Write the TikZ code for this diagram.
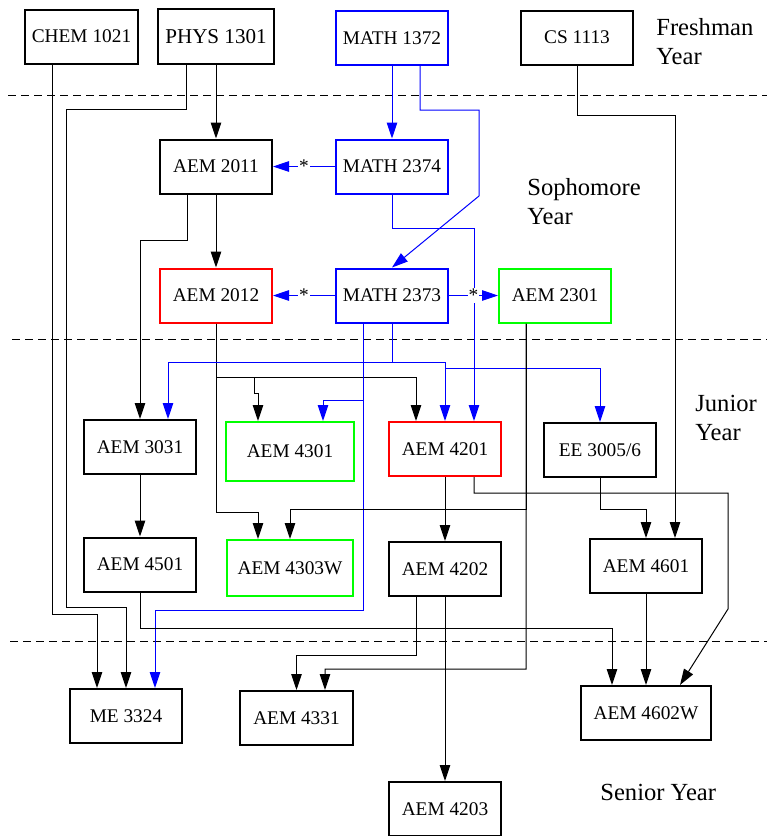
\documentclass[tikz,border=0pt]{standalone}
\usepackage{fontspec}
\setmainfont{Liberation Serif}
\usetikzlibrary{arrows.meta,calc}
\definecolor{gvgreen}{RGB}{0,255,0}

\begin{document}
\begin{tikzpicture}[x=0.2mm, y=-0.2mm,
    course/.style={draw, line width=0.4mm, minimum width=22.4mm, minimum height=10.8mm,
      inner sep=0pt, font=\fontsize{11}{13}\selectfont},
    mathcourse/.style={course, draw=blue},
    labcourse/.style={course, draw=gvgreen},
    corecourse/.style={course, draw=red},
    prereq/.style={-{Triangle[length=3.2mm,width=2.1mm]}, line width=0.2mm},
    mathreq/.style={prereq, color=blue},
    coreq/.style={fill=white, inner sep=0.6pt, text=black, font=\fontsize{11}{13}\selectfont},
    yearline/.style={line width=0.2mm, dash pattern=on 1.6mm off 1mm},
    year/.style={align=left, anchor=west, inner sep=0pt, font=\fontsize{14}{16.5}\selectfont}]
\useasboundingbox (0,0) rectangle (767,836);

% Year separators
\draw[yearline] (8,95) -- (767,95);
\draw[yearline] (12,339) -- (767,339);
\draw[yearline] (10,641) -- (767,641);

% Freshman
\node[course] (chem) at (81.5,36.5) {CHEM 1021};
\node[course, minimum width=23mm, minimum height=11mm, font=\fontsize{12}{14}\selectfont]
  (phys) at (216,36.5) {PHYS 1301};
\node[mathcourse] (m1372) at (392,38) {MATH 1372};
\node[course] (cs) at (577,37.5) {CS 1113};
\node[year] at (656,42) {Freshman\\Year};

% Sophomore
\node[course] (aem2011) at (216,166.5) {AEM 2011};
\node[mathcourse] (m2374) at (392,166.5) {MATH 2374};
\node[year] at (527,202) {Sophomore\\Year};
\node[corecourse] (aem2012) at (216,295.5) {AEM 2012};
\node[mathcourse] (m2373) at (392,295.5) {MATH 2373};
\node[labcourse] (aem2301) at (555,295.5) {AEM 2301};

% Junior
\node[course] (aem3031) at (140,447) {AEM 3031};
\node[labcourse, minimum width=25.4mm, minimum height=11.8mm] (aem4301) at (290,451.5) {AEM 4301};
\node[corecourse] (aem4201) at (445,449) {AEM 4201};
\node[course] (ee) at (600,450) {EE 3005/6};
\node[year] at (695,418) {Junior\\Year};
\node[course] (aem4501) at (140,564.5) {AEM 4501};
\node[labcourse, minimum width=25.2mm, minimum height=11.2mm] (aem4303w) at (290,568) {AEM 4303W};
\node[course] (aem4202) at (445,569) {AEM 4202};
\node[course] (aem4601) at (646,566) {AEM 4601};

% Senior
\node[course] (me) at (126,716) {ME 3324};
\node[course] (aem4331) at (296.5,718) {AEM 4331};
\node[course, minimum width=26mm] (aem4602w) at (646,713) {AEM 4602W};
\node[course] (aem4203) at (445,809) {AEM 4203};
\node[year] at (600,792) {Senior Year};

% Freshman prerequisites
\draw[prereq] ($(chem.south)+(-29.5,0)$) |- (97,614) -- ($(me.north)+(-29,0)$);
\draw[prereq] ($(phys.south)+(-30,0)$) |- (66,109) |- (126,607) -- (me.north);
\draw[prereq] (phys.south) -- (aem2011.north);
\draw[mathreq] (m1372.south) -- (m2374.north);
\draw[mathreq] ($(m1372.south)+(28,0)$) |- (479,110) -- (479,196) -- (m2373.north);
\draw[prereq] (cs.south) |- (675,115) -- ($(aem4601.north)+(29,0)$);

% Sophomore prerequisites
\draw[mathreq] (m2374.south) |- (474,228) -- ($(aem4201.north)+(29,0)$);
\draw[mathreq] (m2374.west) -- node[coreq] {*} (aem2011.east);
\draw[prereq] (aem2011.south) -- (aem2012.north);
\draw[prereq] ($(aem2011.south)+(-29,0)$) |- (140,240) -- (aem3031.north);
\draw[mathreq] (m2373.west) -- node[coreq] {*} (aem2012.east);
\draw[mathreq] (m2373.east) -- node[coreq] {*} (aem2301.west);

% AEM 2012
\draw[prereq] (aem2012.south) |- (258,512) -- ($(aem4303w.north)+(-32,0)$);
\draw[prereq] (aem2012.south) |- (254,377) |- (258,393) -- ($(aem4301.north)+(-32,0)$);
\draw[prereq] (aem2012.south) |- (416,377) -- ($(aem4201.north)+(-29,0)$);

% MATH 2373
\draw[mathreq] (m2373.south) |- (168,362) -- ($(aem3031.north)+(28,0)$);
\draw[mathreq] (m2373.south) |- (445,362) -- (aem4201.north);
\draw[mathreq] (m2373.south) |- (445,362) |- (600,368) -- (ee.north);
\draw[mathreq] ($(m2373.south)+(-29,0)$) |- (323,400) -- ($(aem4301.north)+(33,0)$);
\draw[mathreq] ($(m2373.south)+(-29,0)$) |- (155,610) -- ($(me.north)+(29,0)$);

% AEM 2301
\draw[prereq] ($(aem2301.south)+(-29,0)$) |- (290,509) -- (aem4303w.north);
\draw[prereq] ($(aem2301.south)+(-29,0)$) |- (325,669) -- ($(aem4331.north)+(28.5,0)$);

% Junior prerequisites
\draw[prereq] (aem3031.south) -- (aem4501.north);
\draw[prereq] (aem4201.south) -- (aem4202.north);
\draw[prereq] ($(aem4201.south)+(29,0)$) |- (728,493) -- (728,609) -- ($(aem4602w.north)+(34,0)$);
\draw[prereq] (ee.south) |- (646,509) -- (aem4601.north);
\draw[prereq] (aem4501.south) |- (612,628) -- ($(aem4602w.north)+(-34,0)$);
\draw[prereq] (aem4601.south) -- (aem4602w.north);
\draw[prereq] ($(aem4202.south)+(-29,0)$) |- (296.5,655) -- (aem4331.north);
\draw[prereq] (aem4202.south) -- (aem4203.north);
\end{tikzpicture}
\end{document}
